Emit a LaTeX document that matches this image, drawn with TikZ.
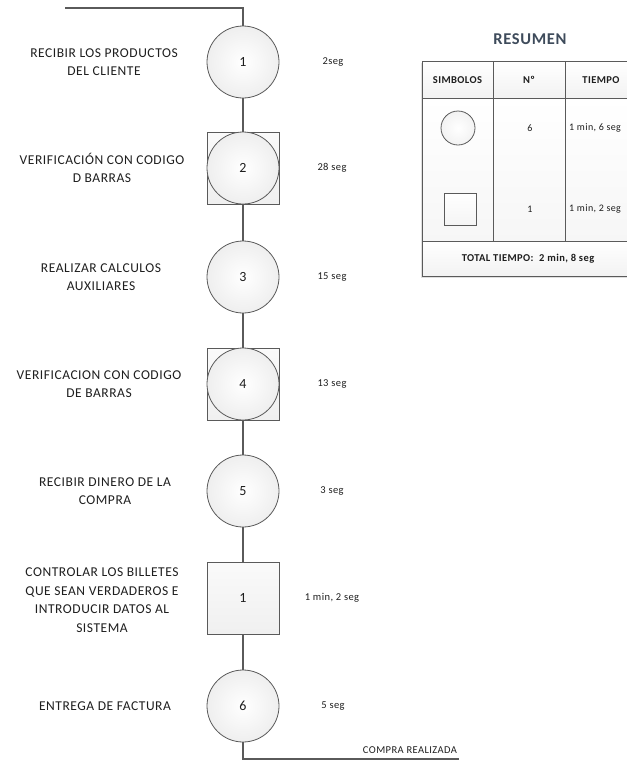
\documentclass[tikz,border=0pt]{standalone}
\usepackage{fontspec}
\setmainfont{Carlito}[LetterSpace=4]
\usetikzlibrary{shadows}
\definecolor{linec}{HTML}{5A5A5A}
\definecolor{txt}{HTML}{1E1E1E}
\definecolor{titlec}{HTML}{3E4B5B}
\begin{document}
\begin{tikzpicture}[x=1pt,y=-1pt,
  circ/.style={circle, draw=linec, line width=0.8pt, minimum size=72pt, inner sep=0pt,
    inner color=white, outer color=gray!13, text=txt, font=\fontsize{14}{16}\selectfont},
  sqr/.style={rectangle, draw=linec, line width=0.8pt, minimum size=72pt, inner sep=0pt,
    top color=gray!4, bottom color=gray!12, text=txt, font=\fontsize{14}{16}\selectfont},
  lbl/.style={align=center, text=txt, font=\fontsize{13.5}{18.5}\selectfont},
  tm/.style={text=txt, font=\fontsize{10.5}{12}\selectfont},
  conn/.style={draw=linec, line width=1.1pt},
  tabline/.style={draw=linec, line width=0.9pt},
  thead/.style={text=txt, font=\bfseries\fontsize{10.5}{12}\selectfont},
  tcell/.style={text=txt, font=\fontsize{10}{12}\selectfont},
]
\useasboundingbox (0,0) rectangle (627,761);

% ---- process column ----
\node[circ] (c1) at (243,62) {1};
\node[sqr] (s2) at (243,168) {};
\node[circ] (c2) at (243,168) {2};
\node[circ] (c3) at (243,277) {3};
\node[sqr] (s4) at (243,384) {};
\node[circ] (c4) at (243,384) {4};
\node[circ] (c5) at (243,491) {5};
\node[sqr] (s6) at (243,598) {1};
\node[circ] (c7) at (243,706) {6};

\coordinate (start) at (65,8);
\coordinate (finish) at (459,759);
\draw[conn] (start) -| (c1.north);
\draw[conn] (c1) -- (s2);
\draw[conn] (s2) -- (c3);
\draw[conn] (c3) -- (s4);
\draw[conn] (s4) -- (c5);
\draw[conn] (c5) -- (s6);
\draw[conn] (s6) -- (c7);
\draw[conn] (c7.south) |- (finish);
\node[tm, anchor=south] (fin) at (410,757) {COMPRA REALIZADA};

% ---- left labels ----
\node[lbl] (l1) at (104,62) {RECIBIR LOS PRODUCTOS\\DEL CLIENTE};
\node[lbl] (l2) at (102,168) {VERIFICACIÓN CON CODIGO\\D BARRAS};
\node[lbl] (l3) at (101,277) {REALIZAR CALCULOS\\AUXILIARES};
\node[lbl] (l4) at (99,384) {VERIFICACION CON CODIGO\\DE BARRAS};
\node[lbl] (l5) at (105,491) {RECIBIR DINERO DE LA\\COMPRA};
\node[lbl] (l6) at (102,600) {CONTROLAR LOS BILLETES\\QUE SEAN VERDADEROS E\\INTRODUCIR DATOS AL\\SISTEMA};
\node[lbl] (l7) at (105,706) {ENTREGA DE FACTURA};

% ---- times ----
\node[tm] (t1) at (333,62) {2seg};
\node[tm] (t2) at (332,168) {28 seg};
\node[tm] (t3) at (332,277) {15 seg};
\node[tm] (t4) at (332,384) {13 seg};
\node[tm] (t5) at (332,491) {3 seg};
\node[tm] (t6) at (332,598) {1 min, 2 seg};
\node[tm] (t7) at (333,706) {5 seg};

% ---- summary table ----
\node[text=titlec, font=\bfseries\fontsize{16.5}{18}\selectfont] (title) at (530,39) {RESUMEN};
\begin{scope}
\clip (0,0) rectangle (627,761);
\path[drop shadow={shadow xshift=-1.5pt, shadow yshift=-2pt, opacity=0.25}, fill=white] (422,61) rectangle (637,276);
\shade[top color=white, bottom color=gray!10] (422,61) rectangle (637,98);
\shade[top color=white, bottom color=gray!7] (422,98) rectangle (637,241);
\shade[top color=white, bottom color=gray!10] (422,241) rectangle (637,276);
\draw[tabline] (422,61) rectangle (637,276);
\draw[tabline] (422,98) -- (637,98);
\draw[tabline] (422,241) -- (637,241);
\draw[tabline] (493,61) -- (493,241);
\draw[tabline] (565,61) -- (565,241);
\node[thead] (h1) at (457.5,80) {SIMBOLOS};
\node[thead] (h2) at (529,80) {Nº};
\node[thead] (h3) at (601,80) {TIEMPO};
\node[circle, draw=linec, line width=0.8pt, minimum size=34pt, inner sep=0pt, inner color=white, outer color=gray!10] (sc) at (458,128) {};
\node[rectangle, draw=linec, line width=0.8pt, minimum size=32pt, inner sep=0pt, top color=white, bottom color=gray!8] (ss) at (460,209) {};
\node[tcell] (n1) at (530,128) {6};
\node[tcell] (n2) at (530,209) {1};
\node[tcell, anchor=west, inner sep=0pt] (d1) at (569,128) {1 min, 6 seg};
\node[tcell, anchor=west, inner sep=0pt] (d2) at (569,209) {1 min, 2 seg};
\node[thead] (tot) at (528,258.5) {TOTAL TIEMPO:\ \ 2 min, 8 seg};
\end{scope}
\end{tikzpicture}
\end{document}
